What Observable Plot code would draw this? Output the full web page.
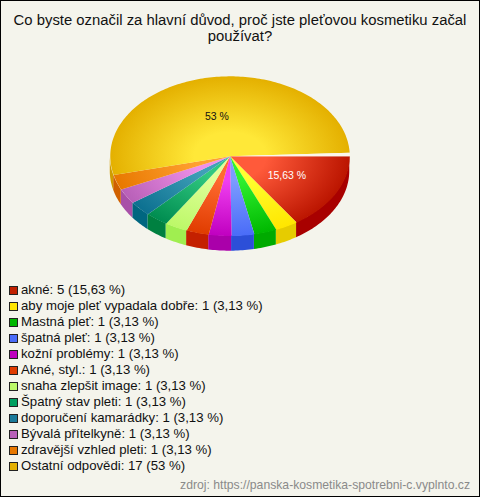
<!DOCTYPE html>
<html><head><meta charset="utf-8">
<script src="https://cdn.jsdelivr.net/npm/d3@7"></script>
<script src="https://cdn.jsdelivr.net/npm/@observablehq/plot@0.6"></script>
<style>
html,body{margin:0;padding:0;background:#f4f4ec}
#chart{position:relative;box-sizing:border-box;width:480px;height:497px;border:1px solid #000;background:#f4f4ec;font-family:"Liberation Sans",Arial,sans-serif;color:#111;overflow:hidden}
#title{position:absolute;left:0;right:0;top:11px;text-align:center;font-size:14.85px;line-height:16px;padding:0 5px}
#plot{position:absolute;left:-1px;top:-1px}
#legend{position:absolute;left:8px;top:281px;font-size:13.2px;line-height:16px}
.row{height:16px;white-space:nowrap;display:flex;align-items:center}
.sw{box-sizing:border-box;width:9px;height:9px;border:1px solid #222;margin-right:3px;flex:none}
#src{position:absolute;right:9px;top:477px;font-size:12.2px;color:#8a8a8a}
</style></head><body>
<div id="chart">
<div id="title">Co byste označil za hlavní důvod, proč jste pleťovou kosmetiku začal používat?</div>
<div id="plot"></div>
<div id="legend"></div>
<div id="src">zdroj: https://panska-kosmetika-spotrebni-c.vyplnto.cz</div>
</div>
<script>
const categories=["akné","aby moje pleť vypadala dobře","Mastná pleť","špatná pleť","kožní problémy","Akné, styl.","snaha zlepšit image","Špatný stav pleti","doporučení kamarádky","Bývalá přítelkyně","zdravější vzhled pleti","Ostatní odpovědi"];
const counts=[5,1,1,1,1,1,1,1,1,1,1,17];
const shares=["15,63","3,13","3,13","3,13","3,13","3,13","3,13","3,13","3,13","3,13","3,13","53"];
const sideColors=["#a80000","#e6cc00","#00aa00","#2c4fd8","#aa00aa","#c42000","#a0ee50","#008040","#006680","#a850a8","#d06000","#d09c00"];
const innerColors=["#ff5a3a","#ffff30","#30f030","#7c9cff","#f040f0","#ff6a30","#e0ff9a","#30c880","#40a0b8","#f090e8","#ffa030","#ffe838"];
const outerColors=["#bb1500","#ffe600","#00b800","#4a6cf8","#c000c0","#e03c00","#bcf868","#008c50","#0c7090","#b860b8","#e87800","#e4b000"];
const legendColors=["#c02000","#ffe600","#00b800","#4a6cf8","#c000c0","#e03c00","#bcf868","#00a060","#1a7a9a","#b860b8","#e87800","#e4b000"];
const labels=[{text:"53 %",u:-0.11,v:-0.5,fill:"#111"},{text:"15,63 %",u:0.475,v:0.25,fill:"#fff"}];
const depth=0.19, gapEnd=0.987, narrow=0.978;

const total=d3.sum(counts);
const firstEnd=counts[0]/total*2*Math.PI;
const warp=a=>a<=firstEnd?a:firstEnd+(a-firstEnd)*narrow;
let acc=0;
const slices=counts.map((c,i)=>{const a0=acc/total*2*Math.PI;acc+=c;const last=i===counts.length-1;return {i,a0:warp(a0),a1:last?2*Math.PI:warp(acc/total*2*Math.PI)};});
function arc(a0,a1){const n=Math.max(2,Math.ceil((a1-a0)/0.02));return d3.range(n+1).map(k=>{const a=a0+(a1-a0)*k/n;return {a,u:Math.cos(a),v:Math.sin(a)};});}
const lastSlice=slices[slices.length-1];
const gapStart=lastSlice.a0+(lastSlice.a1-lastSlice.a0)*gapEnd;
function topFace(s){const end=s===lastSlice?gapStart:s.a1;return [{u:0,v:0},...arc(s.a0,end),{u:0,v:0}];}
const gapFace=[{u:0,v:0},...arc(gapStart,2*Math.PI),{u:0,v:0}];
const walls=slices.map(s=>{const lo=s.a0,hi=s.a1;const parts=[];
  if(lo<Math.PI) parts.push(arc(lo,Math.min(hi,Math.PI)));
  return parts.flat().map(p=>({...p,v2:p.v+depth}));});

function defsMark(index,{x,y}){
  const rx=x(1)-x(0), ry=y(1)-y(0);
  const defs=d3.create("svg:defs");
  slices.forEach(s=>{
    const g=defs.append("radialGradient").attr("id","g"+s.i).attr("gradientUnits","userSpaceOnUse")
      .attr("cx",0).attr("cy",0).attr("r",1)
      .attr("gradientTransform",`translate(${x(0)},${y(0)}) scale(${rx},${ry})`);
    g.append("stop").attr("offset","0").attr("stop-color",innerColors[s.i]);
    g.append("stop").attr("offset","0.3").attr("stop-color",innerColors[s.i]);
    g.append("stop").attr("offset","1").attr("stop-color",outerColors[s.i]);
  });
  return defs.node();
}

const plot=Plot.plot({
  width:480,height:497,margin:0,
  style:{background:"transparent"},
  x:{domain:[-1,1],range:[110,350],axis:null},
  y:{domain:[-1,1],range:[76,236],axis:null},
  marks:[
    defsMark,
    ...walls.filter(w=>w.length).map((w,j)=>Plot.areaY(w,{x:"u",y1:"v",y2:"v2",fill:sideColors[j],curve:"linear"})),
    ...slices.map(s=>Plot.line(topFace(s),{x:"u",y:"v",fill:`url(#g${s.i})`,stroke:"none",curve:"linear"})),
    Plot.line(gapFace,{x:"u",y:"v",fill:"#fbf6ec",stroke:"none",curve:"linear"}),
    Plot.text(labels,{x:"u",y:"v",text:"text",fill:"fill",fontSize:10.5,fontFamily:"Liberation Sans"})
  ]
});
document.getElementById("plot").appendChild(plot);

const lg=d3.select("#legend");
categories.forEach((c,i)=>{
  const r=lg.append("div").attr("class","row");
  r.append("span").attr("class","sw").style("background",legendColors[i]);
  r.append("span").text(`${c}: ${counts[i]} (${shares[i]} %)`);
});
</script>
</body></html>
